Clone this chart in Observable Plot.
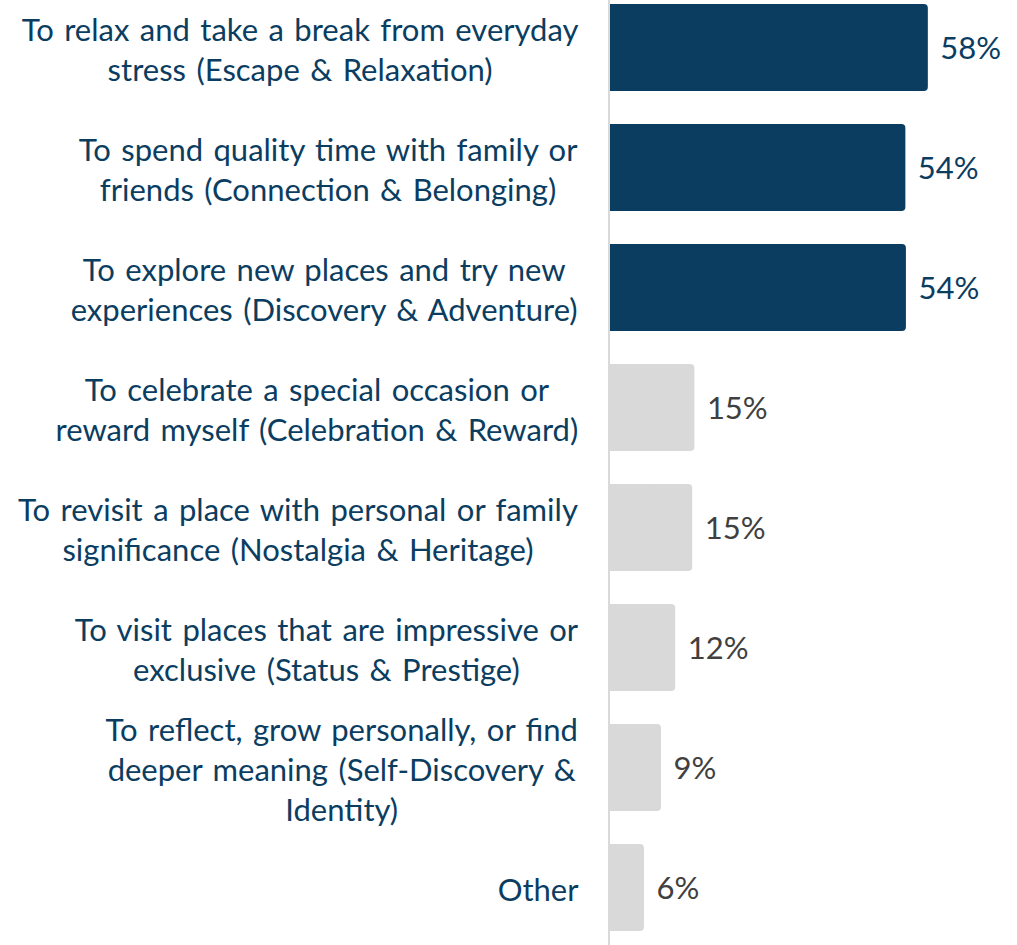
<!DOCTYPE html>
<html><head><meta charset="utf-8">
<script src="https://cdn.jsdelivr.net/npm/d3@7"></script>
<script src="https://cdn.jsdelivr.net/npm/@observablehq/plot@0.6"></script>
<style>body{margin:0;background:#fff} svg{display:block;overflow:visible} .cat text, text.cat, .cat tspan{word-spacing:2.5px}</style>
</head><body><div id="chart"></div>
<script>
const categories = [
  "To relax and take a break from everyday\nstress (Escape & Relaxation)",
  "To spend quality time with family or\nfriends (Connection & Belonging)",
  "To explore new places and try new\nexperiences (Discovery & Adventure)",
  "To celebrate a special occasion or\nreward myself (Celebration & Reward)",
  "To revisit a place with personal or family\nsignificance (Nostalgia & Heritage)",
  "To visit places that are impressive or\nexclusive (Status & Prestige)",
  "To reflect, grow personally, or find\ndeeper meaning (Self-Discovery &\nIdentity)",
  "Other"
];
const values = [58, 53.9, 54, 15.4, 15, 11.9, 9.3, 6.2];
const valueLabels = ["58%", "54%", "54%", "15%", "15%", "12%", "9%", "6%"];
const highlighted = [true, true, true, false, false, false, false, false];

const NAVY = "#0b3d61", GREY_BAR = "#d9d9d9", GREY_TEXT = "#404040";
const FAMILY = "Lato, 'Open Sans', sans-serif";
const WORD_SPACING = 2.5;

const data = categories.map((c, i) => ({
  cat: c, value: values[i], label: valueLabels[i],
  fill: highlighted[i] ? NAVY : GREY_BAR,
  textFill: highlighted[i] ? NAVY : GREY_TEXT
}));

// measure text to center lines within a right-aligned block
const ctx = document.createElement("canvas").getContext("2d");
function measure(s, fs) {
  ctx.font = `${fs}px ${FAMILY}`;
  return ctx.measureText(s).width + WORD_SPACING * (s.split(" ").length - 1);
}
const fs = 31;

const marginLeft = 610;
const labelRight = 578;

const labelMarks = data.map(d => {
  const w = d3.max(d.cat.split("\n"), l => measure(l, fs));
  return Plot.text([d], {
    y: "cat", text: "cat", frameAnchor: "left", textAnchor: "middle", lineAnchor: "middle",
    dx: labelRight - marginLeft - w / 2, lineHeight: 40 / fs,
    fill: NAVY, fontSize: fs, fontFamily: FAMILY, className: "cat"
  });
});

const chart = Plot.plot({
  width: 1017, height: 945,
  marginLeft, marginRight: 1017 - marginLeft - 5.48 * 70, marginTop: 0, marginBottom: 0,
  x: {domain: [0, 70], axis: null},
  y: {domain: categories, axis: null, paddingInner: 0.275, paddingOuter: 0.075, align: 4 / 18, round: false},
  color: {type: "identity"},
  marks: [
    Plot.barX(data, {y: "cat", x: "value", fill: "fill", rx: 4}),
    Plot.barX(data, {y: "cat", x1: 0, x2: d => d.value / 2, fill: "fill"}),
    Plot.ruleX([0], {stroke: "#d9d9d9", strokeWidth: 2, dx: -1.5}),
    Plot.text(data, {y: "cat", x: "value", text: "label", textAnchor: "start", dx: 12, dy: 1,
      fill: "textFill", fontSize: fs, fontFamily: FAMILY}),
    ...labelMarks
  ]
});
document.getElementById("chart").append(chart);
</script>
</body></html>
